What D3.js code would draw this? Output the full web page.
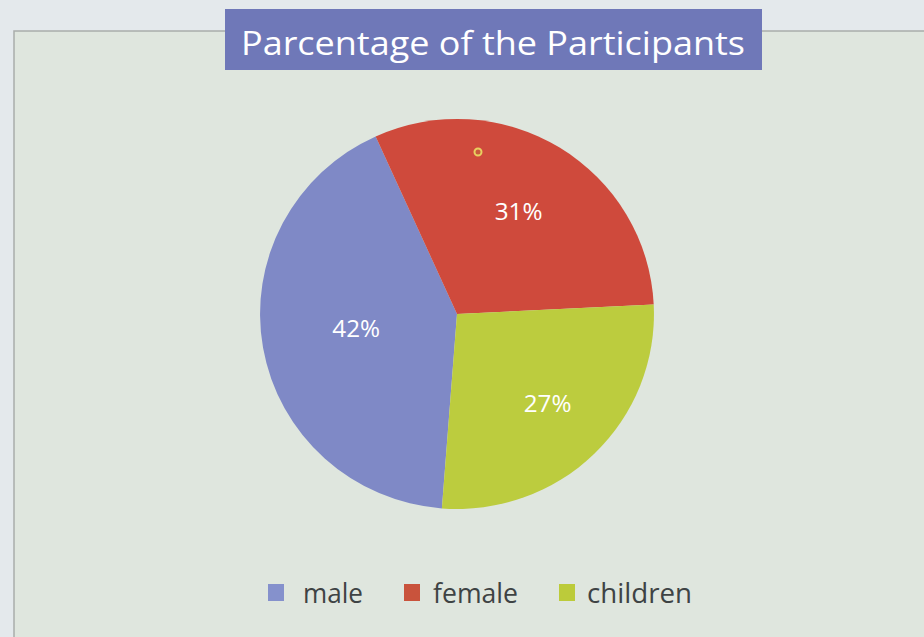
<!DOCTYPE html>
<html><head><meta charset="utf-8">
<script src="https://cdn.jsdelivr.net/npm/d3@7"></script>
<style>
html,body{margin:0;padding:0;background:#e3e8ea;}
svg{display:block;}
</style></head>
<body>
<svg id="chart" width="924" height="637"></svg>
<script>
const title = "Parcentage of the Participants";
const categories = ["male", "female", "children"];
const values = [42, 31, 27];
const labels = ["42%", "31%", "27%"];
const colors = ["#7f89c6", "#cf4a3c", "#bccc3e"];
const legendColors = ["#8591cc", "#c9533c", "#bccb3a"];

const svg = d3.select("#chart");
const W = 924, H = 637;

// panel
svg.append("rect").attr("x", 0).attr("y", 0).attr("width", W).attr("height", H).attr("fill", "#e4e9ec");
svg.append("rect").attr("x", 14).attr("y", 31).attr("width", W).attr("height", H)
  .attr("fill", "#dfe6de").attr("stroke", "#a9adab").attr("stroke-width", 1.5);

// title
const tg = svg.append("g");
tg.append("rect").attr("x", 225).attr("y", 9).attr("width", 537).attr("height", 61).attr("fill", "#6f78b8");
tg.append("text").attr("x", 493).attr("y", 55).attr("text-anchor", "middle")
  .attr("fill", "#ffffff").attr("font-family", "'Open Sans', sans-serif").attr("font-size", 33)
  .attr("textLength", 504).attr("lengthAdjust", "spacingAndGlyphs")
  .text(title);

// pie
const cx = 457, cy = 314, R = 195;
const start = -175.6 * Math.PI / 180;
const pie = d3.pie().sort(null).value(d => d).startAngle(start).endAngle(start + 2 * Math.PI);
const arcs = pie(values);
const arc = d3.arc().innerRadius(0).outerRadius(R);
const g = svg.append("g").attr("transform", `translate(${cx},${cy}) scale(1.01,1)`);
g.selectAll("path").data(arcs).join("path").attr("d", arc).attr("fill", (d, i) => colors[i]);

const labelRadii = [0.52, 0.6, 0.66];
g.selectAll("text.lbl").data(arcs).join("text").attr("class", "lbl")
  .attr("transform", (d, i) => {
    const a = d3.arc().innerRadius(R * labelRadii[i]).outerRadius(R * labelRadii[i]);
    const c = a.centroid(d);
    return `translate(${c[0]},${c[1] - 3})`;
  })
  .attr("text-anchor", "middle").attr("dy", "0.35em")
  .attr("fill", "#ffffff").attr("font-family", "'Open Sans', sans-serif").attr("font-size", 24)
  .attr("font-weight", 500)
  .text((d, i) => labels[i]);

// small ring artifact
svg.append("circle").attr("cx", 478).attr("cy", 152).attr("r", 3.5)
  .attr("fill", "#c95a3c").attr("stroke", "#e8d060").attr("stroke-width", 2);

// legend
const legendX = [268, 404, 559];
const textX = [303, 433, 587];
const textW = [60, 85, 105];
const lg = svg.append("g");
categories.forEach((c, i) => {
  lg.append("rect").attr("x", legendX[i]).attr("y", 584).attr("width", 16).attr("height", 17).attr("fill", legendColors[i]);
  lg.append("text").attr("x", textX[i]).attr("y", 603)
    .attr("fill", "#3e4344").attr("font-family", "'Open Sans', sans-serif").attr("font-size", 27)
    .attr("textLength", textW[i]).attr("lengthAdjust", "spacingAndGlyphs")
    .text(c);
});
</script>
</body></html>
